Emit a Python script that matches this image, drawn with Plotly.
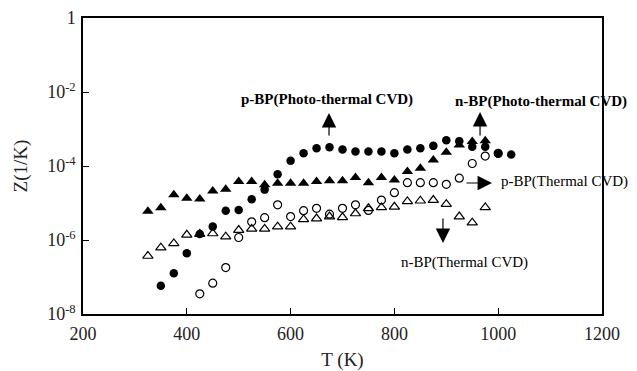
import plotly.graph_objects as go

# p-BP (Photo-thermal CVD) : filled circles
T_p_photo = [350, 375, 400, 425, 450, 475, 500, 525, 550, 575, 600, 625, 650, 675, 700,
             725, 750, 775, 800, 825, 850, 875, 900, 925, 950, 975, 1000, 1025]
Z_p_photo = [5.8e-8, 1.26e-7, 4.4e-7, 1.45e-6, 2.3e-6, 6.2e-6, 6.5e-6, 1.26e-5, 2.3e-5, 6.0e-5,
             1.38e-4, 2.2e-4, 3.0e-4, 3.2e-4, 2.8e-4, 2.45e-4, 2.45e-4, 2.45e-4, 2.2e-4, 2.8e-4,
             3.0e-4, 3.5e-4, 5.0e-4, 4.7e-4, 3.3e-4, 3.3e-4, 2.15e-4, 2.05e-4]

# n-BP (Photo-thermal CVD) : filled triangles
T_n_photo = [325, 350, 375, 400, 425, 450, 475, 500, 525, 550, 575, 600, 625, 650, 675,
             700, 725, 750, 775, 800, 825, 850, 875, 900, 925, 950, 975]
Z_n_photo = [6.0e-6, 7.4e-6, 1.66e-5, 1.35e-5, 1.29e-5, 2.1e-5, 2.35e-5, 3.8e-5, 3.8e-5, 3.1e-5,
             3.4e-5, 3.4e-5, 3.4e-5, 3.8e-5, 4.0e-5, 4.0e-5, 4.9e-5, 3.55e-5, 4.9e-5, 4.2e-5,
             7.1e-5, 8.7e-5, 1.45e-4, 2.35e-4, 3.7e-4, 4.6e-4, 4.8e-4]

# p-BP (Thermal CVD) : open circles
T_p_th = [425, 450, 475, 500, 525, 550, 575, 600, 625, 650, 675, 700, 725, 750, 775,
          800, 825, 850, 875, 900, 925, 950, 975, 1000]
Z_p_th = [3.5e-8, 6.8e-8, 1.8e-7, 1.17e-6, 3.1e-6, 4.0e-6, 8.9e-6, 4.3e-6, 6.2e-6, 7.2e-6,
          5.0e-6, 7.2e-6, 8.9e-6, 6.3e-6, 1.2e-5, 1.9e-5, 3.55e-5, 3.55e-5, 3.55e-5, 3.2e-5,
          4.7e-5, 1.17e-4, 1.86e-4, 2.2e-4]

# n-BP (Thermal CVD) : open triangles
T_n_th = [325, 350, 375, 400, 425, 450, 475, 500, 525, 550, 575, 600, 625, 650, 675,
          700, 725, 750, 775, 800, 825, 850, 875, 900, 925, 950, 975]
Z_n_th = [3.7e-7, 6.2e-7, 8.1e-7, 1.38e-6, 1.45e-6, 1.5e-6, 1.23e-6, 1.86e-6, 2.0e-6, 2.0e-6,
          2.3e-6, 2.3e-6, 3.6e-6, 3.8e-6, 4.3e-6, 4.1e-6, 5.2e-6, 7.2e-6, 7.6e-6, 7.9e-6,
          1.1e-5, 1.15e-5, 1.2e-5, 9.3e-6, 4.3e-6, 2.95e-6, 7.6e-6]

x_ticks = [200, 400, 600, 800, 1000, 1200]
y_tickvals = [1e-8, 1e-6, 1e-4, 1e-2, 1]
y_ticktext = ["10<sup>-8</sup>", "10<sup>-6</sup>", "10<sup>-4</sup>", "10<sup>-2</sup>", "1"]

FONT = "Liberation Serif, Times New Roman, serif"

fig = go.Figure()
fig.add_trace(go.Scatter(x=T_p_th, y=Z_p_th, mode="markers",
                         marker=dict(symbol="circle-open", size=8, color="black", line=dict(width=1.2))))
fig.add_trace(go.Scatter(x=T_n_th, y=Z_n_th, mode="markers",
                         marker=dict(symbol="triangle-up-open", size=9, color="black", line=dict(width=1.2))))
fig.add_trace(go.Scatter(x=T_n_photo, y=Z_n_photo, mode="markers",
                         marker=dict(symbol="triangle-up", size=10, color="black", line=dict(width=0))))
fig.add_trace(go.Scatter(x=T_p_photo, y=Z_p_photo, mode="markers",
                         marker=dict(symbol="circle", size=8.5, color="black", line=dict(width=0))))

# labels
fig.add_annotation(x=500.6, y=-2.19, text="<b>p-BP(Photo-thermal CVD)</b>", showarrow=False,
                   xanchor="left", yanchor="middle", font=dict(family=FONT, size=15, color="black"))
fig.add_annotation(x=912.9, y=-2.26, text="<b>n-BP(Photo-thermal CVD)</b>", showarrow=False,
                   xanchor="left", yanchor="middle", font=dict(family=FONT, size=15, color="black"))
fig.add_annotation(x=1001.5, y=-4.42, text="p-BP(Thermal CVD)", showarrow=False,
                   xanchor="left", yanchor="middle", font=dict(family=FONT, size=15, color="black"))
fig.add_annotation(x=808.9, y=-6.61, text="n-BP(Thermal CVD)", showarrow=False,
                   xanchor="left", yanchor="middle", font=dict(family=FONT, size=15, color="black"))

# arrows
arrow_style = dict(text="", showarrow=True, arrowhead=2, arrowsize=2.4, arrowwidth=1.2, arrowcolor="black")
fig.add_annotation(x=674, y=-2.57, ax=0, ay=24, **arrow_style)
fig.add_annotation(x=965, y=-2.54, ax=0, ay=25, **arrow_style)
fig.add_annotation(x=988, y=-4.46, ax=-27, ay=0, **arrow_style)
fig.add_annotation(x=893.6, y=-6.08, ax=0, ay=-26, **arrow_style)

fig.update_layout(
    width=637, height=371,
    margin=dict(l=83, r=35, t=18, b=57, autoexpand=False),
    paper_bgcolor="white", plot_bgcolor="white",
    showlegend=False,
    font=dict(family=FONT, color="black"),
    xaxis=dict(range=[200, 1200], tickvals=x_ticks, ticks="inside", ticklen=6, tickwidth=1,
               tickcolor="black", showline=True, linecolor="black", linewidth=1.5, mirror=True,
               showgrid=False, zeroline=False, ticklabelstandoff=3, automargin=False,
               tickfont=dict(family=FONT, size=18, color="#222"),
               title=dict(text="T (K)", font=dict(family=FONT, size=19, color="#222"))),
    yaxis=dict(type="log", range=[-8, 0], tickvals=y_tickvals, ticktext=y_ticktext,
               ticks="inside", ticklen=6, tickwidth=1, tickcolor="black",
               showline=True, linecolor="black", linewidth=1.5, mirror=True,
               showgrid=False, zeroline=False, ticklabelstandoff=2, automargin=False,
               tickfont=dict(family=FONT, size=18, color="#222"),
               title=dict(text="Z(1/K)", font=dict(family=FONT, size=19, color="#222"))),
)

fig.write_html("out.html", config={"displayModeBar": False},
               post_script="document.body.style.margin='0';document.body.style.padding='0';")
